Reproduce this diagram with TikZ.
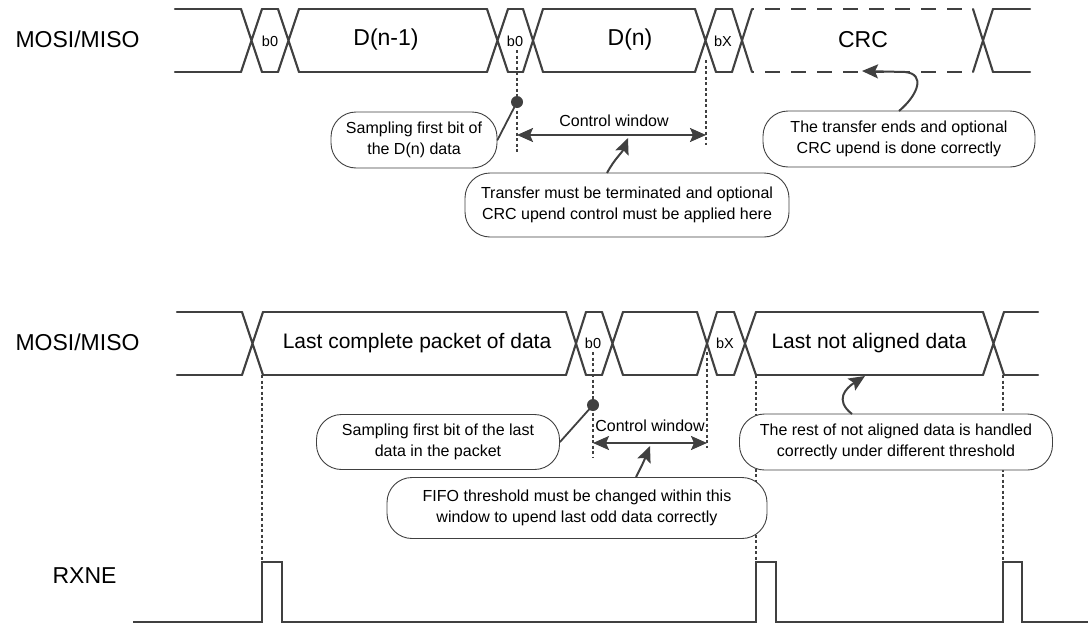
\documentclass[tikz,border=0pt]{standalone}
\usepackage{fontspec}
\setmainfont{Liberation Sans}
\usetikzlibrary{arrows.meta}
\definecolor{wave}{HTML}{404040}
\begin{document}
\begin{tikzpicture}[x=1pt,y=-1pt,
  wv/.style={draw=wave,line width=2.1pt,line cap=round},
  dotline/.style={draw=wave,line width=1.8pt,dash pattern=on 3pt off 2.5pt},
  callout/.style={draw=wave,line width=0.9pt,rounded corners=25pt,align=center,
    font=\fontsize{16}{21.5}\selectfont,inner sep=0pt,fill=white},
  arr/.style={draw=wave,line width=2pt,-{Stealth[length=16pt,width=14pt,inset=3pt]}},
  dblarr/.style={draw=wave,line width=2pt,{Stealth[length=16pt,width=14pt,inset=3pt]}-{Stealth[length=16pt,width=14pt,inset=3pt]}},
  big/.style={font=\fontsize{23}{27}\selectfont},
  mid/.style={font=\fontsize{21}{25}\selectfont},
  small/.style={font=\fontsize{16}{20}\selectfont},
  bit/.style={font=\fontsize{14.5}{17}\selectfont},
]
\useasboundingbox (0,0) rectangle (1090,624);

% ---------- top bus ----------
\foreach \a/\b in {241/262,278/299,487/508,523/543,695/716,732/752,973/993}
  {\draw[wv] (\a,9)--(\b,72) (\a,72)--(\b,9);}
\foreach \a/\b in {175/241,262/278,299/487,508/523,543/695,716/732,993/1030}
  {\draw[wv] (\a,9)--(\b,9) (\a,72)--(\b,72);}
\draw[wv,line cap=butt,dash pattern=on 15pt off 11pt,dash phase=-13pt] (752,9)--(973,9) (752,72)--(973,72);

\node[anchor=base west,big] (lab1) at (12,47) {MOSI/MISO};
\node[big] (dn1) at (386,40) {D(n-1)};
\node[big] (dn) at (630,40) {D(n)};
\node[big] (crc) at (863,40) {CRC};
\node[bit] (b0a) at (270,41) {b0};
\node[bit] (b0b) at (515,41) {b0};
\node[bit] (bxa) at (723,41) {bX};

% dotted markers top
\draw[dotline] (517,50)--(517,152);
\draw[dotline] (706,60)--(706,145);
\coordinate (dot1) at (517,102);
\fill[wave] (dot1) circle (6pt);

\coordinate (cw1l) at (517,135);
\coordinate (cw1r) at (706,135);
\draw[dblarr] (cw1l) -- (cw1r);
\node[small] (cw1) at (614,121) {Control window};

% callouts top
\node[callout,minimum width=166pt,minimum height=56pt] (s1) at (414,140) {Sampling first bit of\\the D(n) data};
\draw[wv,line width=1.8pt] (dot1) -- (s1.east);

\node[callout,minimum width=324pt,minimum height=64pt] (t1) at (627,205) {Transfer must be terminated and optional\\CRC upend control must be applied here};
\coordinate (t1tip) at (628,138);
\draw[arr] (607,173) to[out=62,in=-112] (t1tip);

\node[callout,minimum width=272pt,minimum height=56pt] (c1) at (899,139) {The transfer ends and optional\\CRC upend is done correctly};
\coordinate (c1tip) at (862,71);
\draw[arr] (899,111) .. controls (918,95) and (926,74) .. (905,72) -- (c1tip);

% ---------- bottom bus ----------
\foreach \a/\b in {242/263,566/586,602/623,697/717,734/756,983/1004}
  {\draw[wv] (\a,312)--(\b,375) (\a,375)--(\b,312);}
\foreach \a/\b in {177/242,263/566,586/602,623/697,717/734,756/983,1004/1038}
  {\draw[wv] (\a,312)--(\b,312) (\a,375)--(\b,375);}

\node[anchor=base west,big] (lab2) at (12,350) {MOSI/MISO};
\node[mid] (lcp) at (417,343) {Last complete packet of data};
\node[mid] (lna) at (869,343) {Last not aligned data};
\node[bit] (b0c) at (593,343) {b0};
\node[bit] (bxb) at (725,343) {bX};

\draw[dotline] (593,352)--(593,457);
\draw[dotline] (707,352)--(707,448);
\draw[dotline] (262,375)--(262,562);
\draw[dotline] (756,375)--(756,562);
\draw[dotline] (1003,375)--(1003,562);

\coordinate (dot2) at (593,405);
\fill[wave] (dot2) circle (6pt);

\coordinate (cw2l) at (593,443);
\coordinate (cw2r) at (707,443);
\draw[dblarr] (cw2l) -- (cw2r);
\node[small] (cw2) at (650,426) {Control window};

\node[callout,minimum width=243pt,minimum height=55pt] (s2) at (438,442) {Sampling first bit of the last\\data in the packet};
\draw[wv,line width=1.8pt] (dot2) -- (s2.east);

\node[callout,minimum width=380pt,minimum height=61pt] (f1) at (577,508) {FIFO threshold must be changed within this\\window to upend last odd data correctly};
\coordinate (f1tip) at (650,446);
\draw[arr] (636,477) to[out=62,in=-112] (f1tip);

\node[callout,minimum width=313pt,minimum height=56pt] (r1) at (896,442) {The rest of not aligned data is handled\\correctly under different threshold};
\coordinate (r1tip) at (865,376);
\draw[arr] (852,414) .. controls (834,400) and (846,388) .. (r1tip);

% ---------- RXNE ----------
\node[anchor=base east,big] (lab3) at (120,583) {RXNE};
\draw[wv,line cap=butt,line join=miter] (133,622) -- (262,622) -- (262,562) -- (282,562) -- (282,622)
  -- (756,622) -- (756,562) -- (776,562) -- (776,622)
  -- (1003,622) -- (1003,562) -- (1022,562) -- (1022,622) -- (1088,622);
\end{tikzpicture}
\end{document}
